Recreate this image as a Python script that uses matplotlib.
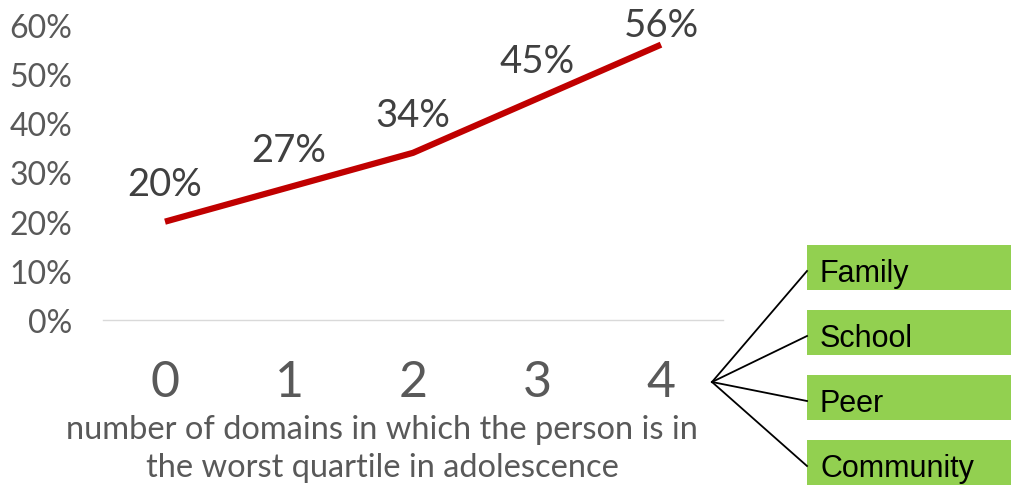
import matplotlib
matplotlib.use("Agg")
import matplotlib.pyplot as plt
from matplotlib.patches import Rectangle
from matplotlib.lines import Line2D

categories = [0, 1, 2, 3, 4]
values = [0.20, 0.27, 0.34, 0.45, 0.56]
value_labels = ["20%", "27%", "34%", "45%", "56%"]
yticks = [0.0, 0.1, 0.2, 0.3, 0.4, 0.5, 0.6]
ytick_labels = ["0%", "10%", "20%", "30%", "40%", "50%", "60%"]
domains = ["Family", "School", "Peer", "Community"]
xlabel_text = "number of domains in which the person is in\nthe worst quartile in adolescence"

W, H = 1011, 489
fig = plt.figure(figsize=(W / 100, H / 100), dpi=100)
fig.patch.set_facecolor("white")

FONT = "Lato"
GRAY = "#595959"

def fx(px):
    return px / W

def fy(py):
    return 1 - py / H

ax = fig.add_axes([fx(103), fy(321), fx(723) - fx(103), fy(26) - fy(321)])
ax.plot(categories, values, color="#C00000", linewidth=4.5, solid_capstyle="butt", clip_on=False)
ax.set_xlim(-0.5, 4.5)
ax.set_ylim(0, 0.6)
ax.set_yticks(yticks)
ax.set_yticklabels(ytick_labels, fontfamily=FONT, fontsize=23, color=GRAY)
ax.set_xticks(categories)
ax.set_xticklabels([str(c) for c in categories], fontfamily=FONT, fontsize=36, color=GRAY)
ax.tick_params(axis="y", length=0, pad=22)
ax.tick_params(axis="x", length=0, pad=28)
for s in ["top", "right", "left"]:
    ax.spines[s].set_visible(False)
ax.spines["bottom"].set_color("#D9D9D9")
ax.spines["bottom"].set_linewidth(1.0)

offsets = [27, 27, 27, 27, 14]
for x, v, lab, off in zip(categories, values, value_labels, offsets):
    ax.annotate(lab, (x, v), xytext=(0, off), textcoords="offset points",
                ha="center", va="center", fontfamily=FONT, fontsize=27.5, color="#404040",
                annotation_clip=False)

fig.text(fx(382), fy(449), xlabel_text, ha="center", va="center", fontfamily=FONT,
         fontsize=23.5, color=GRAY, linespacing=1.3)

# domain boxes
box_tops = [246, 311, 376, 441]
hub = (712, 383)
for name, top in zip(domains, box_tops):
    fig.add_artist(Rectangle((fx(807), fy(top + 45)), fx(1011) - fx(807), fy(top) - fy(top + 45),
                             transform=fig.transFigure, facecolor="#92D050", edgecolor="none"))
    fig.text(fx(820), fy(top + 36), name, ha="left", va="baseline", fontfamily="Liberation Sans",
             fontsize=22, color="black")
    fig.add_artist(Line2D([fx(hub[0]), fx(807)], [fy(hub[1]), fy(top + 26)],
                          transform=fig.transFigure, color="black", linewidth=1.3))

fig.savefig("out.png", dpi=100)
